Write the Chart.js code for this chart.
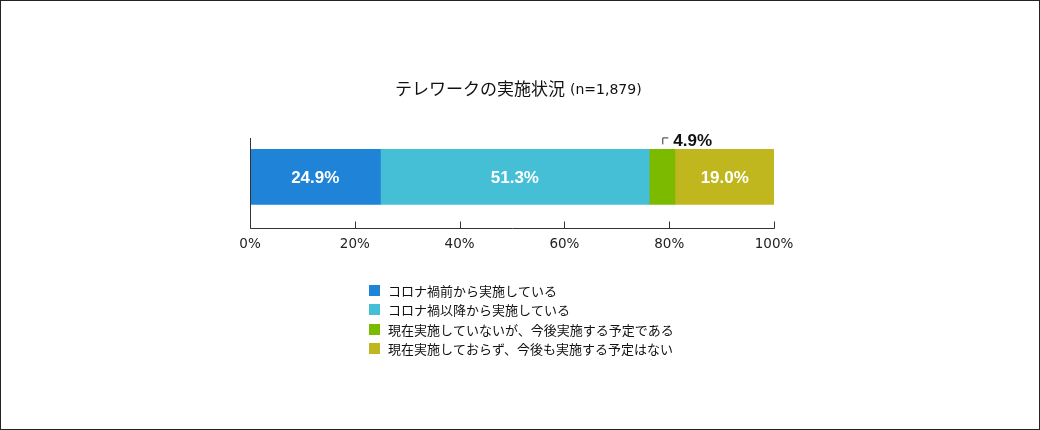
<!DOCTYPE html>
<html>
<head>
<meta charset="utf-8">
<script src="https://cdn.jsdelivr.net/npm/chart.js@4.4.1/dist/chart.umd.min.js"></script>
<style>
  body { margin: 0; background: #fff; }
  #wrap { width: 1040px; height: 430px; }
</style>
</head>
<body>
<div id="wrap"><canvas id="myChart" width="1040" height="430"></canvas></div>
<script>
const categories = ["テレワーク"];
const seriesNames = [
  "コロナ禍前から実施している",
  "コロナ禍以降から実施している",
  "現在実施していないが、今後実施する予定である",
  "現在実施しておらず、今後も実施する予定はない",
];
const seriesValues = [24.9, 51.3, 4.9, 19.0];
const seriesColors = ["#1f83d8", "#44bfd6", "#7cba00", "#c0b61d"];
const xTicks = [0, 20, 40, 60, 80, 100];

const JP = '"Noto Sans CJK JP", "Noto Sans", sans-serif';
const NUM = '"DejaVu Sans", sans-serif';

const decor = {
  id: "decor",
  afterDraw(chart) {
    const ctx = chart.ctx;
    const x = chart.scales.x;
    const area = chart.chartArea;
    ctx.save();

    // frame
    ctx.strokeStyle = "#222";
    ctx.lineWidth = 1;
    ctx.strokeRect(0.5, 0.5, 1039, 429);

    // title
    ctx.fillStyle = "#111";
    ctx.textBaseline = "middle";
    ctx.textAlign = "left";
    ctx.font = "17px " + JP;
    const t1 = "テレワークの実施状況";
    ctx.fillText(t1, 395, 89);
    const w1 = ctx.measureText(t1).width;
    ctx.font = "14px " + NUM;
    ctx.fillText("(n=1,879)", 395 + w1 + 5, 90);

    // axes
    ctx.strokeStyle = "#333";
    const bottom = Math.round(area.bottom) + 0.5;
    const x0 = Math.round(x.getPixelForValue(0)) + 0.5;
    const x1 = Math.round(x.getPixelForValue(100)) + 0.5;
    ctx.beginPath();
    ctx.moveTo(x0, 138);
    ctx.lineTo(x0, bottom);
    ctx.lineTo(x1, bottom);
    xTicks.forEach(v => {
      const px = Math.round(x.getPixelForValue(v)) + 0.5;
      ctx.moveTo(px, bottom);
      ctx.lineTo(px, bottom - 7);
    });
    ctx.stroke();

    // value labels
    chart.data.datasets.forEach((ds, i) => {
      const bar = chart.getDatasetMeta(i).data[0];
      const v = ds.data[0];
      const txt = v.toFixed(1) + "%";
      ctx.font = "bold 17px \"Liberation Sans\", Arial, sans-serif";
      if (v < 10) {
        const left = bar.base;
        ctx.fillStyle = "#111";
        ctx.textAlign = "left";
        ctx.fillText(txt, left + 24, bar.y - bar.height / 2 - 8);
        ctx.strokeStyle = "#333";
        ctx.beginPath();
        ctx.moveTo(left + 13.5, bar.y - bar.height / 2 - 5);
        ctx.lineTo(left + 13.5, bar.y - bar.height / 2 - 11.5);
        ctx.lineTo(left + 19, bar.y - bar.height / 2 - 11.5);
        ctx.stroke();
      } else {
        ctx.fillStyle = "#fff";
        ctx.textAlign = "center";
        ctx.fillText(txt, (bar.base + bar.x) / 2, bar.y + 1);
      }
    });

    // legend
    ctx.textAlign = "left";
    ctx.font = "13px " + JP;
    chart.data.datasets.forEach((ds, i) => {
      const cy = 290 + i * 19.5;
      ctx.fillStyle = ds.backgroundColor;
      ctx.fillRect(369, Math.round(cy - 5.5), 11, 11);
      ctx.fillStyle = "#111";
      ctx.fillText(ds.label, 388, cy + 1);
    });
    ctx.restore();
  }
};

new Chart(document.getElementById("myChart"), {
  type: "bar",
  data: {
    labels: categories,
    datasets: seriesNames.map((name, i) => ({
      label: name,
      data: [seriesValues[i]],
      backgroundColor: seriesColors[i],
      borderWidth: 0,
      barThickness: 55,
    })),
  },
  options: {
    indexAxis: "y",
    responsive: false,
    animation: false,
    layout: { padding: { left: 250, right: 266, top: 126, bottom: 168 } },
    plugins: {
      legend: { display: false },
      tooltip: { enabled: false },
      title: { display: false },
    },
    scales: {
      x: {
        stacked: true,
        min: 0,
        max: 100,
        afterBuildTicks: (s) => { s.ticks = xTicks.map(v => ({ value: v })); },
        grid: { display: false, tickLength: 0 },
        border: { display: false },
        ticks: {
          padding: 9,
          color: "#222",
          font: { size: 13.5, family: NUM },
          maxRotation: 0,
          callback: (v) => v + "%",
        },
      },
      y: {
        stacked: true,
        display: false,
      },
    },
  },
  plugins: [decor],
});
</script>
</body>
</html>
